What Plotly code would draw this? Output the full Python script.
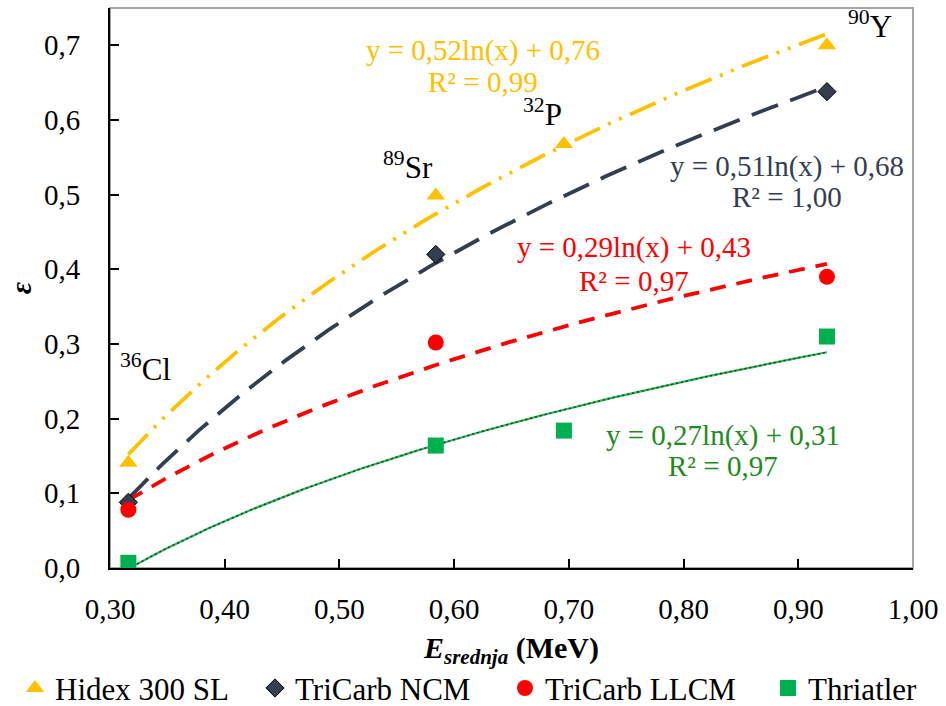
import numpy as np
import plotly.graph_objects as go

# ---- data ----
energy = [0.316, 0.584, 0.6957, 0.925]          # MeV: 36Cl, 89Sr, 32P, 90Y
isotopes = ["<sup>36</sup>Cl", "<sup>89</sup>Sr", "<sup>32</sup>P", "<sup>90</sup>Y"]
hidex = [0.141, 0.499, 0.568, 0.700]
ncm = [0.088, 0.420, None, 0.638]
llcm = [0.078, 0.302, None, 0.390]
thriatler = [0.007, 0.164, 0.184, 0.310]

series_names = ["Hidex 300 SL", "TriCarb NCM", "TriCarb LLCM", "Thriatler"]
eq_texts = ["y = 0,52ln(x) + 0,76", "y = 0,51ln(x) + 0,68", "y = 0,29ln(x) + 0,43", "y = 0,27ln(x) + 0,31"]
r2_texts = ["R² = 0,99", "R² = 1,00", "R² = 0,97", "R² = 0,97"]

x_ticks = [0.30, 0.40, 0.50, 0.60, 0.70, 0.80, 0.90, 1.00]
x_tick_labels = ["0,30", "0,40", "0,50", "0,60", "0,70", "0,80", "0,90", "1,00"]
y_ticks = [0.0, 0.1, 0.2, 0.3, 0.4, 0.5, 0.6, 0.7]
y_tick_labels = ["0,0", "0,1", "0,2", "0,3", "0,4", "0,5", "0,6", "0,7"]

# ---- styles ----
colors = ["#FFC000", "#333F50", "#FF0000", "#00B050"]
text_colors = ["#FFC000", "#333F50", "#FF0000", "#1E8C1E"]
symbols = ["triangle-up", "diamond", "circle", "square"]
marker_sizes = [16, 14, 16, 16]
line_dash = ["28px,9px,3px,9px,3px,9px", "28px,13px", "16px,11px", "solid"]

SERIF = "Liberation Serif"

fig = go.Figure()

all_series = [hidex, ncm, llcm, thriatler]

# trendlines (logarithmic regression fitted to each series)
for i, ys in enumerate(all_series):
    xs = np.array([e for e, v in zip(energy, ys) if v is not None])
    yv = np.array([v for v in ys if v is not None])
    a, b = np.polyfit(np.log(xs), yv, 1)
    xx = np.linspace(xs.min(), xs.max(), 200)
    yy = a * np.log(xx) + b
    if i == 3:
        fig.add_trace(go.Scatter(x=xx, y=yy, mode="lines", showlegend=False, hoverinfo="skip",
                                 line=dict(color="#2DB45A", width=2.2)))
        fig.add_trace(go.Scatter(x=xx, y=yy, mode="lines", showlegend=False, hoverinfo="skip",
                                 line=dict(color="#1A3A22", width=1.4, dash="2px,3px")))
    else:
        fig.add_trace(go.Scatter(x=xx, y=yy, mode="lines", showlegend=False, hoverinfo="skip",
                                 line=dict(color=colors[i], width=3.8, dash=line_dash[i])))

# markers, each with its own legend box
legend_ids = ["legend", "legend2", "legend3", "legend4"]
for i, ys in enumerate(all_series):
    fig.add_trace(go.Scatter(
        x=energy, y=ys, mode="markers", name=series_names[i], legend=legend_ids[i],
        marker=dict(symbol=symbols[i], size=marker_sizes[i], color=colors[i],
                    line=dict(color="#000000" if i == 1 else colors[i], width=1 if i == 1 else 0)),
    ))

# equation annotations
eq_pos = [(0.6252, 0.693, 0.651), (0.8904, 0.5375, 0.497), (0.7565, 0.429, 0.384), (0.8348, 0.177, 0.137)]
for i, (ex, ey1, ey2) in enumerate(eq_pos):
    fig.add_annotation(x=ex, y=ey1, text=eq_texts[i], showarrow=False,
                       font=dict(family=SERIF, size=29, color=text_colors[i]))
    fig.add_annotation(x=ex, y=ey2, text=r2_texts[i], showarrow=False,
                       font=dict(family=SERIF, size=29, color=text_colors[i]))

# isotope labels
iso_pos = [(0.3313, 0.268), (0.560, 0.539), (0.6774, 0.610), (0.9626, 0.728)]
for lab, (ix, iy) in zip(isotopes, iso_pos):
    fig.add_annotation(x=ix, y=iy, text=lab, showarrow=False,
                       font=dict(family=SERIF, size=31, color="#000000"))

# axis titles
fig.add_annotation(xref="paper", yref="paper", x=0.4994, y=-0.146, yanchor="middle",
                   text="<b><i>E</i></b><sub><b><i>srednja</i></b></sub><b> (MeV)</b>",
                   showarrow=False, font=dict(family=SERIF, size=30, color="#000000"))
fig.add_annotation(xref="paper", yref="paper", x=-0.1118, y=0.5, xanchor="center", yanchor="middle",
                   text="<b><i>ε</i></b>", showarrow=False, textangle=-90,
                   font=dict(family=SERIF, size=30, color="#000000"))

# plot frame (grey) behind axes
fig.add_shape(type="rect", xref="paper", yref="paper", x0=0, y0=0, x1=1, y1=1,
              line=dict(color="#A6A6A6", width=2), layer="below")

fig.update_xaxes(range=[0.30, 1.00], tickvals=x_ticks, ticktext=x_tick_labels,
                 ticks="inside", ticklen=9, tickwidth=1.5, tickcolor="#000000",
                 showline=True, linecolor="#000000", linewidth=2, showgrid=False, zeroline=False,
                 ticklabelstandoff=14, ticklabeloverflow="allow",
                 tickfont=dict(family=SERIF, size=29, color="#000000"))
fig.update_yaxes(range=[0.0, 0.75], tickvals=y_ticks, ticktext=y_tick_labels,
                 ticks="inside", ticklen=9, tickwidth=1.5, tickcolor="#000000",
                 showline=True, linecolor="#000000", linewidth=2, showgrid=False, zeroline=False,
                 ticklabelstandoff=22, ticklabeloverflow="allow",
                 tickfont=dict(family=SERIF, size=29, color="#000000"))

leg_common = dict(orientation="h", xref="container", yref="container", y=0.025, yanchor="middle",
                  xanchor="left", font=dict(family=SERIF, size=31, color="#000000"),
                  bgcolor="rgba(0,0,0,0)", borderwidth=0)
leg_x = [0.01586, 0.26956, 0.53383, 0.81184]

fig.update_layout(
    width=946, height=706,
    margin=dict(l=110, r=31, t=8, b=138),
    paper_bgcolor="#FFFFFF", plot_bgcolor="#FFFFFF",
    showlegend=True,
    legend=dict(x=leg_x[0], **leg_common),
    legend2=dict(x=leg_x[1], **leg_common),
    legend3=dict(x=leg_x[2], **leg_common),
    legend4=dict(x=leg_x[3], **leg_common),
)

fig.write_html("out.html", config={"displayModeBar": False},
               post_script="document.body.style.margin='0px';")
